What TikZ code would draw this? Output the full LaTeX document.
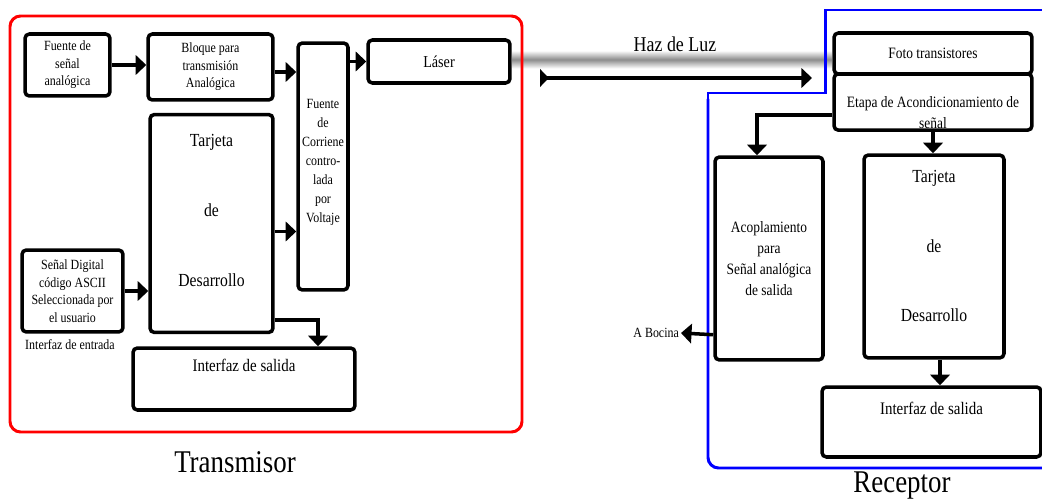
\documentclass[tikz,border=0pt]{standalone}
\usepackage{fontspec}
\setmainfont[FakeStretch=0.85]{Liberation Serif}
\usetikzlibrary{arrows.meta,calc}

\tikzset{
  blk/.style={draw,line width=2pt,rounded corners=2.5pt,align=center,inner sep=1pt,
    font=\fontsize{8}{10}\selectfont},
  arr/.style={line width=2pt,-{Triangle[width=11pt,length=6pt]}},
  titulo/.style={font=\fontsize{18}{20}\selectfont}
}

\begin{document}
\begin{tikzpicture}[x=0.02cm,y=-0.02cm]
\useasboundingbox (0,0) rectangle (1042,500);

% transmisor
\node[blk,minimum width=1.7cm,minimum height=1.24cm] (fuente) at (67.5,65) {Fuente de\\se\~nal\\anal\'ogica};
\node[blk,minimum width=2.5cm,minimum height=1.32cm] (bloque) at (210.5,67) {Bloque para\\transmisi\'on\\Anal\'ogica};
\node[blk,minimum width=1cm,minimum height=4.94cm,font=\fontsize{8}{10.8}\selectfont] (corriente) at (323,166.5)
  {Fuente\\de\\Corriene\\contro-\\lada\\por\\Voltaje\rule[-6pt]{0pt}{0pt}};
\node[blk,minimum width=2.84cm,minimum height=0.86cm,font=\fontsize{9.5}{11}\selectfont] (laser) at (439,61.5) {L\'aser};
\node[blk,minimum width=2.46cm,minimum height=4.36cm,font=\fontsize{10.5}{12.6}\selectfont] (tarjT) at (211.5,223.5)
  {Tarjeta\\[0.95cm]de\\[0.95cm]Desarrollo\rule[-15pt]{0pt}{0pt}};
\node[blk,minimum width=2.02cm,minimum height=1.64cm] (digital) at (72.5,291)
  {Se\~nal Digital\\c\'odigo ASCII\\Seleccionada por\\el usuario};
\node[font=\fontsize{8}{10}\selectfont] (entrada) at (70,345) {Interfaz de entrada};
\node[blk,minimum width=4.44cm,minimum height=1.24cm,font=\fontsize{10}{12}\selectfont] (salidaT) at (244,379)
  {Interfaz de salida\\\strut};
\node[titulo] (transmisor) at (235,462) {Transmisor};

% receptor
\node[blk,minimum width=3.96cm,minimum height=0.82cm,font=\fontsize{9}{11}\selectfont] (foto) at (933,53.5) {Foto transistores};
\node[blk,minimum width=3.96cm,minimum height=1.12cm,font=\fontsize{9}{12}\selectfont] (etapa) at (933,102)
  {\rule{0pt}{18pt}Etapa de Acondicionamiento de\\se\~nal};
\node[blk,minimum width=2.16cm,minimum height=4.06cm,font=\fontsize{9}{12}\selectfont] (acop) at (769,258.5)
  {Acoplamiento\\para\\Se\~nal anal\'ogica\\de salida};
\node[blk,minimum width=2.8cm,minimum height=4.06cm,font=\fontsize{10.5}{12.6}\selectfont] (tarjR) at (934,256.5)
  {Tarjeta\\[0.95cm]de\\[0.95cm]Desarrollo\rule[-12pt]{0pt}{0pt}};
\node[blk,minimum width=4.38cm,minimum height=1.4cm,font=\fontsize{10}{12}\selectfont] (salidaR) at (931.5,422)
  {Interfaz de salida\\\strut};
\node[anchor=east,inner sep=1pt,font=\fontsize{8}{10}\selectfont] (bocina) at (681,333) {A Bocina};
\node[titulo] (receptor) at (902,486) {Receptor};

% haz de luz
\shade[top color=white,bottom color=white,middle color=gray!90] ($(laser.east)+(1,-11)$) rectangle ($(foto.west)+(-1,15)$);
\node[font=\fontsize{12}{14}\selectfont] (haz) at (675,44) {Haz de Luz};
\coordinate (hazS) at (540,78);
\coordinate (hazE) at (812,78);
\draw[line width=1.9pt,{Triangle[reversed,width=10pt,length=5pt]}-{Triangle[width=11pt,length=6pt]}] (hazS) -- (hazE);

% marcos
\draw[red,line width=1.7pt,rounded corners=6pt] (10,16) rectangle (522,432);
\draw[blue,line width=1.7pt] (1042,10) -- (825,10) -- (825,93) -- (708,93) -- (708,100);
\draw[blue,line width=1.7pt,rounded corners=6pt] (708,99) -- (708,468) -- (1042,468);

% conexiones
\draw[arr] (fuente.east) -- (fuente.east -| bloque.west);
\draw[arr] ($(bloque.east)+(0,5)$) coordinate (b1) -- (b1 -| corriente.west);
\draw[arr] (laser.west -| corriente.east) -- (laser.west);
\draw[arr] ($(tarjT.east)+(0,8)$) coordinate (t1) -- (t1 -| corriente.west);
\draw[arr] (digital.east) -- (digital.east -| tarjT.west);
\draw[arr] ($(tarjT.south east)+(0,-14)$) -| ($(salidaT.north)+(74,0)$);
\draw[arr] ($(etapa.west)+(0,13)$) -| ($(acop.north)+(-12,0)$);
\draw[arr] (etapa.south) -- (etapa.south |- tarjR.north);
\draw[arr] ($(tarjR.south)+(6,0)$) coordinate (r1) -- (r1 |- salidaR.north);
\draw[arr] ($(acop.south west)+(0,-27)$) -- (bocina.east);
\end{tikzpicture}
\end{document}
